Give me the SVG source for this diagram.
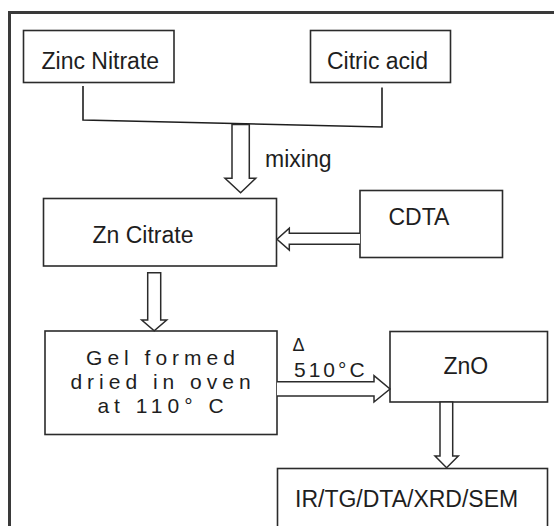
<svg xmlns="http://www.w3.org/2000/svg" width="554" height="526" viewBox="0 0 554 526">
<style>
.box{fill:#fff;stroke:#2b2b2b;stroke-width:1.6}
.t{font-family:"Liberation Sans",Arial,sans-serif;font-size:23px;fill:#1e1e1e}
.sp{font-family:"Liberation Sans",Arial,sans-serif;font-size:21px;fill:#1e1e1e;letter-spacing:5px}
.line{fill:none;stroke:#1e1e1e;stroke-width:1.6}
.arr{fill:#fff;stroke:#2b2b2b;stroke-width:1.5;stroke-linejoin:miter}
</style>
<rect width="554" height="526" fill="#fff"/>
<path d="M9.5 540 V12.5 H560" fill="none" stroke="#3a3a3a" stroke-width="3"/>
<g id="zinc-nitrate"><rect class="box" x="23.5" y="30.5" width="150.5" height="52"/><text class="t" x="41.5" y="69">Zinc Nitrate</text></g>
<g id="citric-acid"><rect class="box" x="310.5" y="30.5" width="140" height="52"/><text class="t" x="327" y="69">Citric acid</text></g>
<g id="zn-citrate"><rect class="box" x="43.5" y="198.5" width="233" height="67.5"/><text class="t" x="92.5" y="243">Zn Citrate</text></g>
<g id="cdta"><rect class="box" x="360" y="190.5" width="142.5" height="67"/><text class="t" x="388.5" y="225">CDTA</text></g>
<g id="gel"><rect class="box" x="45" y="331" width="232" height="103.5"/>
<text class="sp" text-anchor="middle"><tspan x="163" y="365">Gel formed</tspan><tspan x="163" y="388.5">dried in oven</tspan><tspan x="163" y="412.5">at 110° C</tspan></text></g>
<g id="zno"><rect class="box" x="390" y="331.5" width="157.5" height="70.5"/><text class="t" x="443.5" y="373.5">ZnO</text></g>
<g id="ir"><rect class="box" x="277.5" y="468.5" width="270" height="70"/><text class="t" x="295" y="507">IR/TG/DTA/XRD/SEM</text></g>
<g id="connectors">
<path class="line" d="M83 86 V120 L382 127 V87.5"/>
<path class="arr" d="M232 124.5 H249.3 V178.3 H255.7 L240.6 192.7 L225 178.3 H232 Z"/>
<text class="t" x="265" y="167">mixing</text>
<path class="arr" d="M360 233.3 H289.3 V228.3 L277 239.3 L289.3 250 V244.3 H360"/>
<path class="arr" d="M147.7 272.7 H160.7 V320 H166.7 L154.2 330.7 L141.7 320 H147.7 Z"/>
<path class="arr" d="M277 381.7 H374 V375.7 L390 389 L374 402 V396 H277"/>
<text x="292.5" y="351" style="font-family:'Liberation Sans',Arial,sans-serif;font-size:18px;fill:#1e1e1e">Δ</text>
<text x="294" y="376.7" style="font-family:'Liberation Sans',Arial,sans-serif;font-size:21px;fill:#1e1e1e;letter-spacing:3px">510°C</text>
<path class="arr" d="M440 402 H452.7 V456 H458.3 L446.6 467.7 L435 456 H440 Z"/>
</g>
</svg>
